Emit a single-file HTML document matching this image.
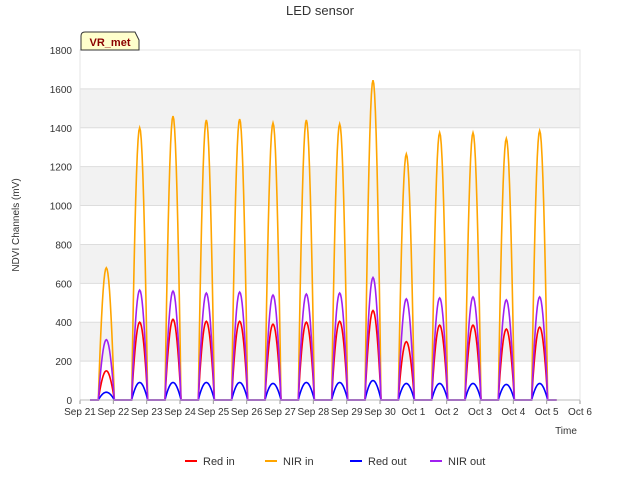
<!DOCTYPE html>
<html><head><meta charset="utf-8"><style>
body{margin:0;background:#fff;font-family:"Liberation Sans",sans-serif}
svg text{font-family:"Liberation Sans",sans-serif}
</style></head><body>
<svg id="c" width="640" height="480" xmlns="http://www.w3.org/2000/svg">
<text x="320" y="15" text-anchor="middle" font-size="13" fill="#333">LED sensor</text>
<g id="bands"></g><g id="grid"></g><g id="series"></g><g id="axes"></g>
<text transform="translate(19,225) rotate(-90)" text-anchor="middle" font-size="10" fill="#333">NDVI Channels (mV)</text>
<text x="566" y="434" text-anchor="middle" font-size="10" fill="#333">Time</text>
<g>
<path d="M81,50 L81,36 Q81,32 85,32 L135,32 L139,40 L139,50 Z" fill="#ffffcc" stroke="#333"/>
<text x="110" y="46" text-anchor="middle" font-size="11" font-weight="bold" fill="#8b0000">VR_met</text></g>
<g id="legend"></g>
</svg>
<script>
const yTicks=[0,200,400,600,800,1000,1200,1400,1600,1800];
const xTickLabels=["Sep 21","Sep 22","Sep 23","Sep 24","Sep 25","Sep 26","Sep 27","Sep 28","Sep 29","Sep 30","Oct 1","Oct 2","Oct 3","Oct 4","Oct 5","Oct 6"];
const nirInPeaks=[680,1400,1460,1440,1445,1425,1440,1420,1645,1265,1375,1375,1345,1385];
const nirOutPeaks=[310,565,560,550,555,540,545,550,630,520,525,530,515,530];
const redInPeaks=[150,400,415,405,405,390,400,405,460,300,385,385,365,375];
const redOutPeaks=[40,90,90,90,90,85,90,90,100,85,85,85,80,85];
const X0=80,X1=580,Y0=400,Y1=50;
const x=d=>X0+(X1-X0)*d/15, y=v=>Y0-(Y0-Y1)*v/1800;
const NS="http://www.w3.org/2000/svg";
function mk(t,a,p){const e=document.createElementNS(NS,t);for(const k in a)e.setAttribute(k,a[k]);p.appendChild(e);return e;}
const bands=document.getElementById('bands'),grid=document.getElementById('grid'),axes=document.getElementById('axes');
mk('rect',{x:X0,y:Y1,width:X1-X0,height:Y0-Y1,fill:'#fff'},bands);
for(let i=0;i<yTicks.length-1;i++){if(i%2==1){const r=mk('rect',{x:X0,y:y(yTicks[i+1]),width:X1-X0,height:y(yTicks[i])-y(yTicks[i+1]),fill:'#f2f2f2'},bands);

}}
yTicks.forEach(v=>{const l=mk('line',{x1:X0,x2:X1,y1:y(v),y2:y(v),stroke:'#ddd'},grid);


const t=mk('text',{x:X0-8,y:y(v)+4,'text-anchor':'end','font-size':10,fill:'#333'},axes);t.textContent=v;

});
xTickLabels.forEach((s,i)=>{mk('line',{x1:x(i),x2:x(i),y1:Y0,y2:Y0+4,stroke:'#999'},axes);
const t=mk('text',{x:x(i),y:Y0+15,'text-anchor':'middle','font-size':10,fill:'#333'},axes);t.textContent=s;

});
mk('rect',{x:X0,y:Y1,width:X1-X0,height:Y0-Y1,fill:'none',stroke:'#e4e4e4'},axes);
mk('line',{x1:X0,x2:X1,y1:Y0,y2:Y0,stroke:'#bbb'},axes);
const ser=document.getElementById('series');
function draw(peaks,color,name){let pts=[[x(0.3),y(0)]];
peaks.forEach((p,d)=>{pts.push([x(d+0.55),y(0)]);
for(let k=0;k<=20;k++){const f=k/20;pts.push([x(d+0.55+0.48*f),y(p*Math.pow(Math.sin(Math.PI*f),0.9))]);}
});pts.push([x(14.3),y(0)]);
const p=mk('polyline',{points:pts.map(q=>q.join(',')).join(' '),fill:'none',stroke:color,'stroke-width':1.6},ser);

}
draw(nirInPeaks,'orange','nir-in-line');draw(redInPeaks,'red','red-in-line');draw(redOutPeaks,'blue','red-out-line');draw(nirOutPeaks,'#a020f0','nir-out-line');
const lg=document.getElementById('legend');
[['Red in','red',185],['NIR in','orange',265],['Red out','blue',350],['NIR out','#a020f0',430]].forEach(([n,c,lx])=>{
const g=mk('g',{},lg);


mk('line',{x1:lx,x2:lx+12,y1:461,y2:461,stroke:c,'stroke-width':2},g);
const t=mk('text',{x:lx+18,y:465,'font-size':11,fill:'#333'},g);t.textContent=n;});
</script>
</body></html>
